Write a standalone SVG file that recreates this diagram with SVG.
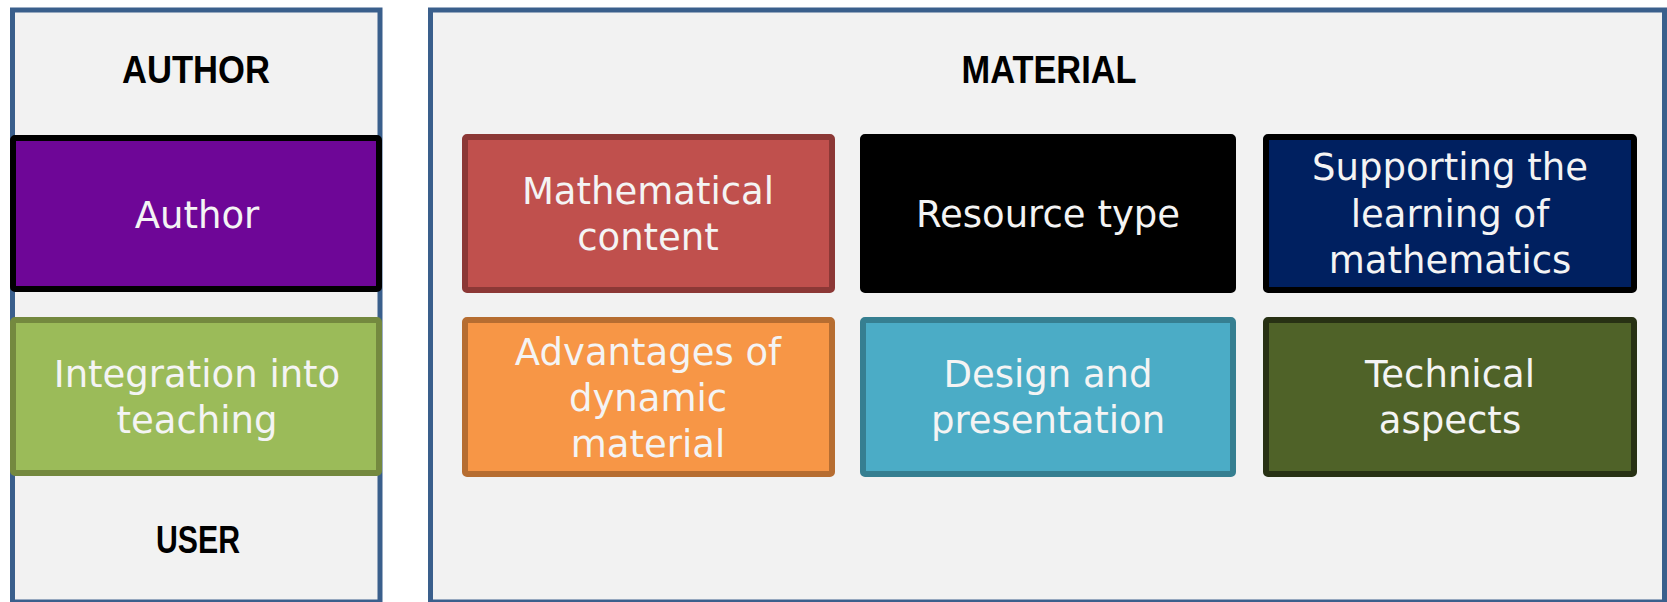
<svg xmlns="http://www.w3.org/2000/svg" width="1667" height="602" viewBox="0 0 1667 602">
<style>
.panel{fill:#F2F2F2;stroke:#3A5F8C;stroke-width:5}
.box{stroke-width:6}
.title{font-family:"Liberation Sans",Arial,sans-serif;font-weight:bold;font-size:38px;fill:#000;text-anchor:middle}
.lbl{font-family:"DejaVu Sans","Liberation Sans",sans-serif;font-size:37px;fill:#F4F4F4;text-anchor:middle}
</style>
<rect width="1667" height="602" fill="#FFFFFF"/>
<g id="panel-left">
<rect class="panel" x="12.5" y="10" width="367.5" height="592"/>
<text class="title" x="196" y="83" textLength="148" lengthAdjust="spacingAndGlyphs">AUTHOR</text>
<text class="title" x="198" y="553" textLength="84" lengthAdjust="spacingAndGlyphs">USER</text>
</g>
<g id="panel-material">
<rect class="panel" x="430.5" y="10" width="1234" height="592"/>
<text class="title" x="1049" y="83" textLength="175" lengthAdjust="spacingAndGlyphs">MATERIAL</text>
</g>
<g id="connectors"></g>
<g id="node-author">
<rect class="box" x="13" y="138" width="366" height="151" rx="2" fill="#6E0697" stroke="#000000"/>
<text class="lbl" x="197" y="228">Author</text>
</g>
<g id="node-integration">
<rect class="box" x="13" y="320" width="366" height="153" rx="2" fill="#9BBB59" stroke="#74893F"/>
<text class="lbl" x="197" y="387">Integration into</text>
<text class="lbl" x="197" y="433">teaching</text>
</g>
<g id="node-math">
<rect class="box" x="465" y="137" width="367" height="153" rx="2" fill="#C0504D" stroke="#8C3836"/>
<text class="lbl" x="648" y="204">Mathematical</text>
<text class="lbl" x="648" y="250">content</text>
</g>
<g id="node-resource">
<rect class="box" x="863" y="137" width="370" height="153" rx="2" fill="#000000" stroke="#000000"/>
<text class="lbl" x="1048" y="227">Resource type</text>
</g>
<g id="node-supporting">
<rect class="box" x="1266" y="137" width="368" height="153" rx="2" fill="#002060" stroke="#000000"/>
<text class="lbl" x="1450" y="180">Supporting the</text>
<text class="lbl" x="1450" y="227">learning of</text>
<text class="lbl" x="1450" y="273">mathematics</text>
</g>
<g id="node-advantages">
<rect class="box" x="465" y="320" width="367" height="154" rx="2" fill="#F79646" stroke="#B66D31"/>
<text class="lbl" x="648" y="365">Advantages of</text>
<text class="lbl" x="648" y="411">dynamic</text>
<text class="lbl" x="648" y="457">material</text>
</g>
<g id="node-design">
<rect class="box" x="863" y="320" width="370" height="154" rx="2" fill="#4BACC6" stroke="#367F91"/>
<text class="lbl" x="1048" y="387">Design and</text>
<text class="lbl" x="1048" y="433">presentation</text>
</g>
<g id="node-technical">
<rect class="box" x="1266" y="320" width="368" height="154" rx="2" fill="#4F6228" stroke="#283114"/>
<text class="lbl" x="1450" y="387">Technical</text>
<text class="lbl" x="1450" y="433">aspects</text>
</g>
</svg>
